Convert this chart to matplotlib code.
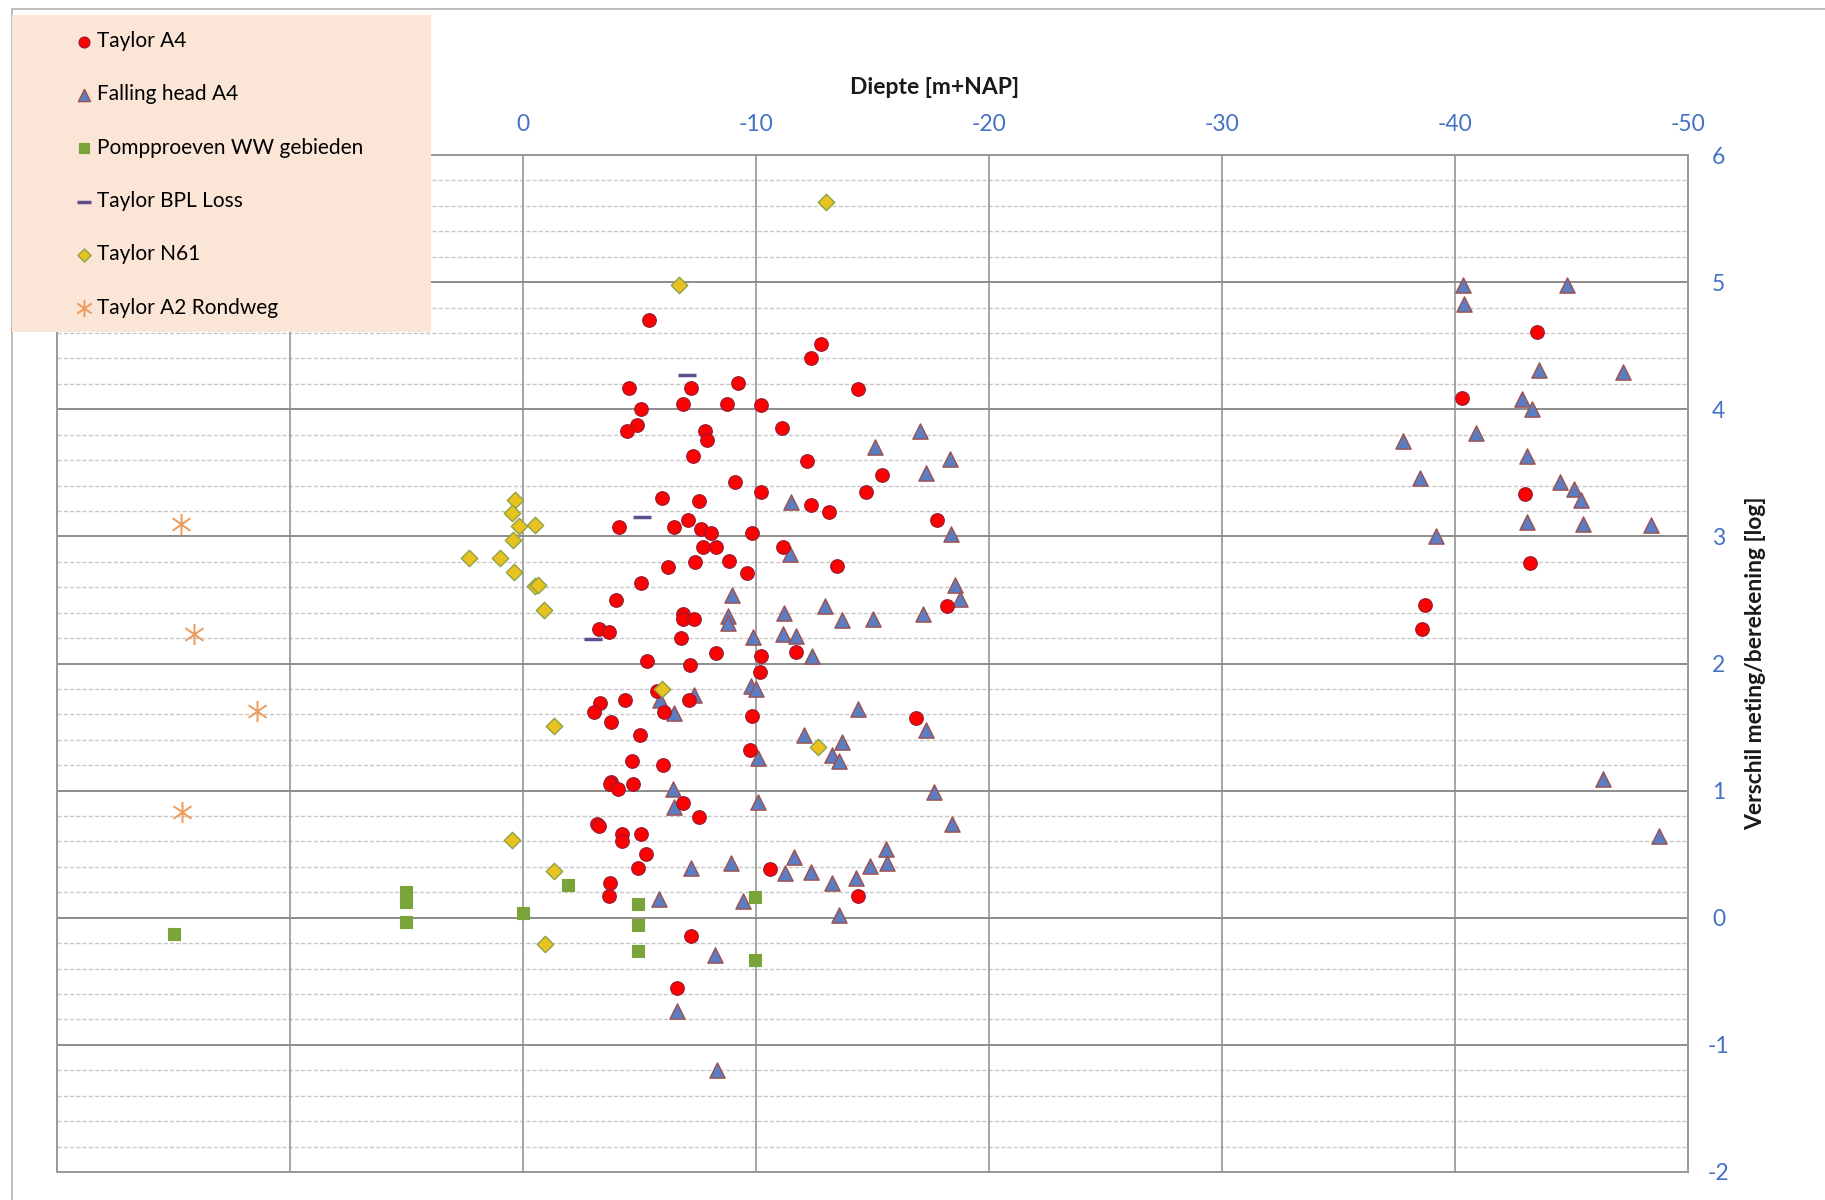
import matplotlib
matplotlib.use("Agg")
import matplotlib.pyplot as plt
from matplotlib.patches import Rectangle
from matplotlib.path import Path

plt.rcParams['font.family'] = ['Lato', 'DejaVu Sans']
plt.rcParams['axes.unicode_minus'] = False

# ---------------- data ----------------
taylor_a4_x = [-5.39, -12.78, -12.38, -4.53, -7.22, -9.23, -14.38, -5.07, -6.88, -8.77, -10.23,
               -4.89, -4.48, -7.81, -7.88, -11.1, -7.28, -12.18, -15.4, -9.08, -14.71, -10.23,
               -5.95, -7.54, -12.38, -13.12, -7.08, -4.13, -6.48, -7.62, -8.08, -9.83, -17.75,
               -7.74, -8.28, -11.17, -6.22, -7.39, -8.83, -13.47, -9.63, -5.07, -4.0, -6.88,
               -6.88, -7.36, -18.21, -3.27, -3.67, -6.8, -8.28, -10.23, -11.72, -5.33, -7.15,
               -10.17, -5.77, -7.13, -3.31, -3.04, -4.38, -6.07, -3.78, -9.81, -16.88, -5.04,
               -9.76, -4.66, -5.99, -3.78, -3.72, -4.08, -4.73, -6.88, -7.55, -3.18, -3.27,
               -4.27, -4.26, -5.06, -5.29, -4.94, -10.62, -3.72, -3.67, -14.38, -7.2, -6.6,
               -43.5, -40.3, -43.0, -43.2, -38.7, -38.6]
taylor_a4_y = [4.70, 4.51, 4.40, 4.17, 4.17, 4.21, 4.16, 4.00, 4.04, 4.04, 4.03,
               3.88, 3.83, 3.83, 3.76, 3.85, 3.63, 3.59, 3.48, 3.43, 3.35, 3.35,
               3.30, 3.28, 3.25, 3.19, 3.13, 3.07, 3.07, 3.06, 3.03, 3.03, 3.13,
               2.92, 2.92, 2.92, 2.76, 2.80, 2.81, 2.77, 2.71, 2.63, 2.50, 2.39,
               2.35, 2.35, 2.45, 2.27, 2.25, 2.20, 2.08, 2.06, 2.09, 2.02, 1.99,
               1.93, 1.78, 1.71, 1.69, 1.62, 1.71, 1.62, 1.54, 1.59, 1.57, 1.44,
               1.32, 1.23, 1.20, 1.07, 1.05, 1.01, 1.05, 0.90, 0.79, 0.74, 0.72,
               0.66, 0.60, 0.66, 0.50, 0.39, 0.38, 0.27, 0.17, 0.17, -0.14, -0.55,
               4.61, 4.09, 3.33, 2.79, 2.46, 2.27]

falling_head_x = [-5.89, -7.35, -6.5, -8.98, -8.78, -8.78, -9.86, -9.77, -10.0, -10.07, -6.42,
                  -6.5, -10.07, -7.23, -8.93, -5.82, -9.43, -8.22, -6.62, -8.32,
                  -11.5, -11.46, -11.22, -11.15, -11.7, -11.65, -11.26,
                  -17.03, -15.11, -18.32, -17.3, -18.38, -18.52, -18.74, -12.95, -13.7, -15.03,
                  -17.16, -12.41, -14.36, -17.31, -12.06, -13.7, -13.27, -13.55, -17.64, -18.42,
                  -15.56, -15.62, -12.34, -14.9, -14.28, -13.27, -13.55,
                  -40.36, -44.8, -40.4, -43.6, -47.2, -42.86, -43.3, -40.9, -37.75, -43.1,
                  -38.5, -44.5, -45.1, -45.4, -43.07, -45.5, -48.4, -39.2, -46.36, -48.76]
falling_head_y = [1.71, 1.75, 1.61, 2.54, 2.37, 2.32, 2.21, 1.82, 1.80, 1.26, 1.01,
                  0.87, 0.91, 0.39, 0.43, 0.15, 0.13, -0.29, -0.73, -1.20,
                  3.27, 2.86, 2.40, 2.23, 2.22, 0.48, 0.35,
                  3.83, 3.70, 3.61, 3.50, 3.02, 2.62, 2.51, 2.45, 2.34, 2.35,
                  2.39, 2.06, 1.64, 1.48, 1.44, 1.38, 1.28, 1.23, 0.99, 0.74,
                  0.54, 0.43, 0.36, 0.41, 0.31, 0.27, 0.02,
                  4.98, 4.98, 4.83, 4.31, 4.29, 4.08, 4.00, 3.81, 3.75, 3.63,
                  3.46, 3.43, 3.37, 3.29, 3.11, 3.10, 3.09, 3.00, 1.09, 0.64]

pomp_x = [15.0, 5.03, 5.03, 5.03, 0.0, -1.92, -4.93, -4.93, -4.93, -9.97, -9.97]
pomp_y = [-0.13, 0.20, 0.12, -0.03, 0.04, 0.26, 0.11, -0.06, -0.26, 0.16, -0.33]

bpl_x = [-7.06, -5.1, -3.02]
bpl_y = [4.27, 3.15, 2.19]

n61_x = [-13.02, -6.7, 0.33, 0.46, 0.19, -0.5, 0.43, 2.31, 1.0, 0.37, -0.5, -0.64, -0.88,
         -5.96, -1.34, -12.68, 0.47, -1.34, -0.95]
n61_y = [5.63, 4.98, 3.29, 3.18, 3.08, 3.09, 2.97, 2.83, 2.83, 2.72, 2.61, 2.62, 2.42,
         1.80, 1.51, 1.34, 0.61, 0.37, -0.21]

a2_x = [14.69, 14.1, 11.43, 14.63]
a2_y = [3.10, 2.23, 1.63, 0.83]

x_ticks = [20, 10, 0, -10, -20, -30, -40, -50]
x_ticklabels = ['20', '10', '0', '-10', '-20', '-30', '-40', '-50']
y_ticks = [-2, -1, 0, 1, 2, 3, 4, 5, 6]
y_ticklabels = ['-2', '-1', '0', '1', '2', '3', '4', '5', '6']

labels = ['Taylor A4', 'Falling head A4', 'Pompproeven WW gebieden',
          'Taylor BPL Loss', 'Taylor N61', 'Taylor A2 Rondweg']

# ---------------- figure ----------------
W, H = 1825, 1200
fig = plt.figure(figsize=(W / 100, H / 100), dpi=100)
ax = fig.add_axes([57 / W, 1 - 1172 / H, (1688 - 57) / W, (1172 - 155) / H])

# chart area border
fig.patches.append(Rectangle((12 / W, -0.1), 1.2, 1 - 9 / H + 0.1, transform=fig.transFigure,
                             facecolor='none', edgecolor='#B0B0B0', lw=1.2, zorder=0))

ax.set_xlim(20, -50)
ax.set_ylim(-2, 6)

# gridlines
for yv in [i * 0.2 - 2 for i in range(41)]:
    if abs(yv - round(yv)) < 1e-6:
        ax.axhline(yv, color='#8C8C8C', lw=1.4, zorder=1)
    else:
        ax.axhline(yv, color='#C8C8C8', lw=1.0, ls=(0, (3, 1.5)), zorder=1)
for xv in x_ticks:
    ax.axvline(xv, color='#8C8C8C', lw=1.1, zorder=1)

for s in ax.spines.values():
    s.set_color('#9A9A9A')
    s.set_linewidth(1.4)

ax.xaxis.tick_top()
ax.set_xticks(x_ticks)
ax.set_xticklabels(x_ticklabels)
ax.yaxis.tick_right()
ax.set_yticks(y_ticks)
ax.set_yticklabels(y_ticklabels)
ax.tick_params(axis='x', length=0, pad=14.5, labelsize=16.5, labelcolor='#4472C4')
ax.tick_params(axis='y', length=0, pad=22, labelsize=16.5, labelcolor='#4472C4')
for lab in ax.get_yticklabels():
    lab.set_horizontalalignment('center')

# asterisk marker: vertical bar plus an X
star = Path([(0, -1), (0, 1), (-0.85, -0.6), (0.85, 0.6), (-0.85, 0.6), (0.85, -0.6)],
            [Path.MOVETO, Path.LINETO, Path.MOVETO, Path.LINETO, Path.MOVETO, Path.LINETO])

# series
h1 = ax.scatter(taylor_a4_x, taylor_a4_y, s=95, marker='o', facecolor='#FF0000',
                edgecolor='#9B1B30', linewidth=0.9, zorder=4)
h2 = ax.scatter(falling_head_x, falling_head_y, s=120, marker='^', facecolor='#5B7DC4',
                edgecolor='#A0504A', linewidth=1.0, zorder=3)
h3 = ax.scatter(pomp_x, pomp_y, s=80, marker='s', facecolor='#7AA33A',
                edgecolor='#7AA33A', linewidth=0.8, zorder=3)
h4 = ax.scatter(bpl_x, bpl_y, s=170, marker='_', color='#5E4E8E', linewidth=2.5, zorder=3)
h5 = ax.scatter(n61_x, n61_y, s=70, marker='D', facecolor='#E8C21E',
                edgecolor='#8FA34A', linewidth=1.0, zorder=5)
h6 = ax.scatter(a2_x, a2_y, s=230, marker=star, color='#EC9A5A', linewidth=1.4, zorder=3)

# axis titles
fig.text(935 / W, 1 - 87 / H, 'Diepte [m+NAP]', ha='center', va='center',
         fontsize=16.5, fontweight='bold', color='#1A1A1A')
fig.text(1756 / W, 1 - 663 / H, 'Verschil meting/berekening [log]', ha='center', va='center',
         rotation=90, fontsize=16.5, fontweight='bold', color='#1A1A1A')

# legend box
fig.patches.append(Rectangle((12 / W, 1 - 332 / H), (431 - 12) / W, (332 - 15) / H,
                             transform=fig.transFigure, facecolor='#FBE5D6',
                             edgecolor='none', zorder=8))
leg = fig.legend([h1, h2, h3, h4, h5, h6], labels, loc='upper left',
                 bbox_to_anchor=(74 / W, 1 - 31 / H), frameon=False, fontsize=15,
                 handletextpad=0.1, labelspacing=1.6, handlelength=1.0,
                 markerscale=0.8, borderaxespad=0, borderpad=0)
leg.set_zorder(9)

fig.savefig('out.png', dpi=100)
